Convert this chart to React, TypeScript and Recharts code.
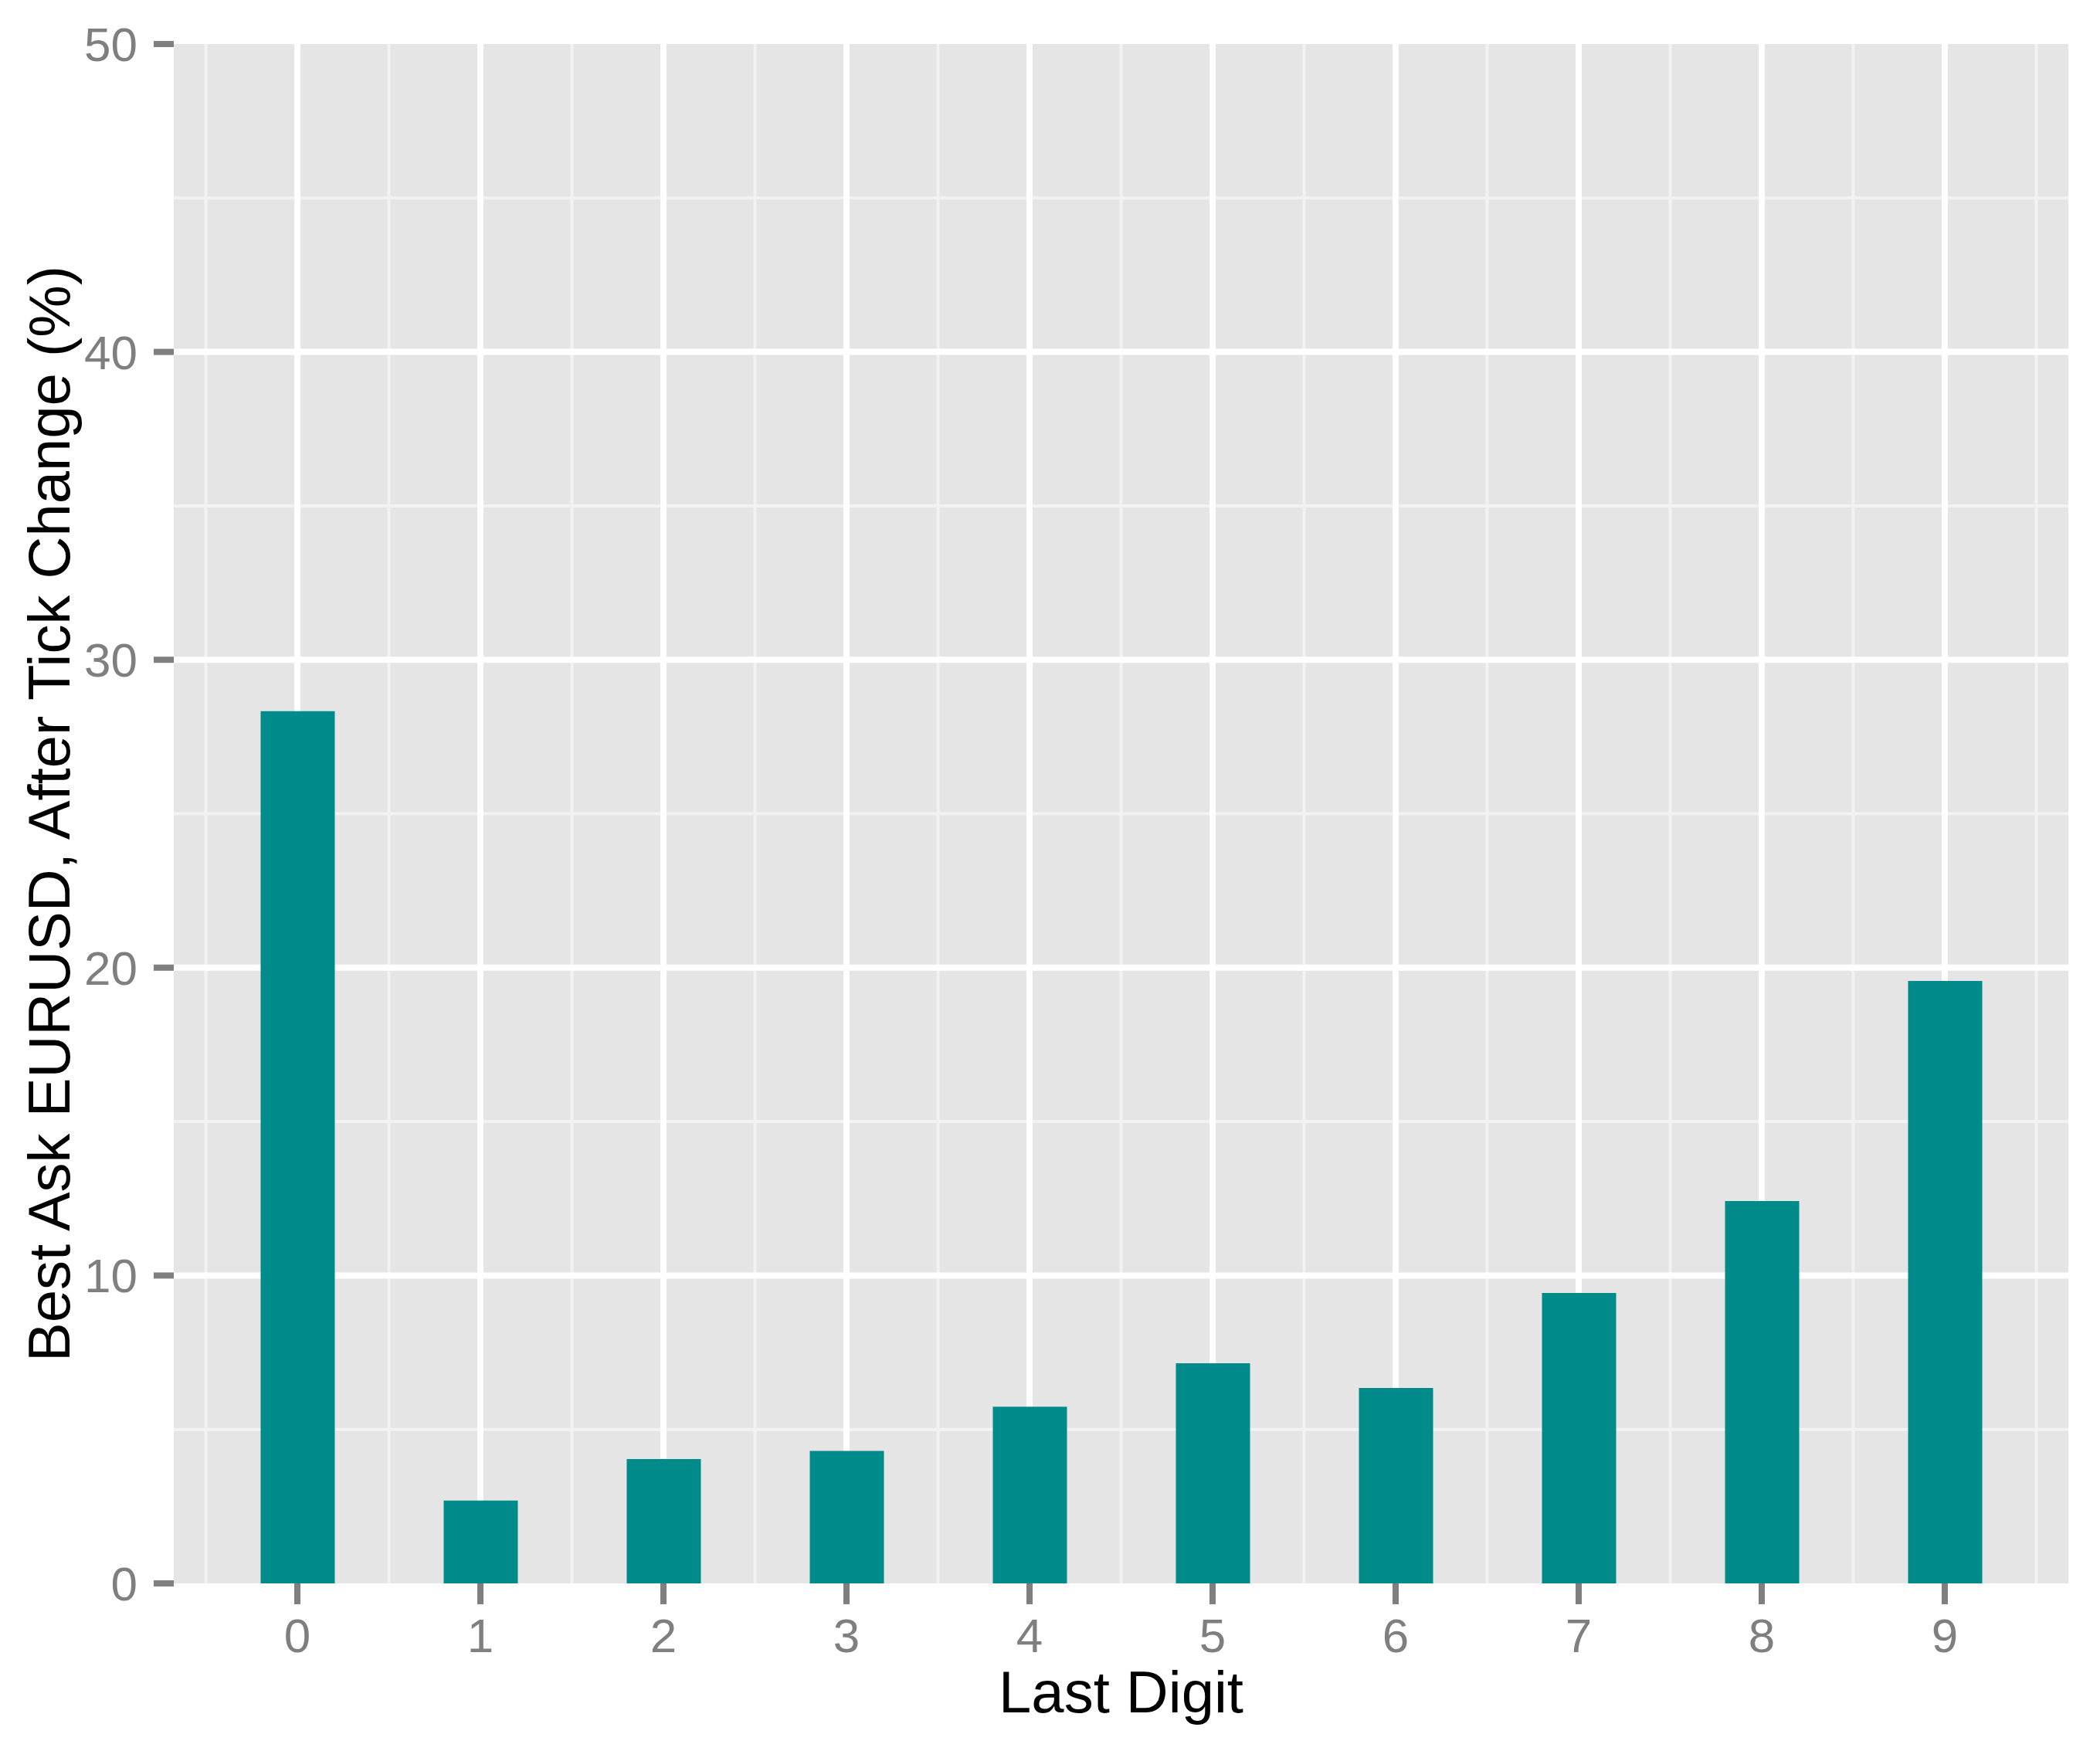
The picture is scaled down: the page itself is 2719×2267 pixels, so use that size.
import { BarChart, Bar, XAxis, YAxis, CartesianGrid } from 'recharts'

// share of ticks (%) ending in each last digit, best ask EURUSD
const digits = [0, 1, 2, 3, 4, 5, 6, 7, 8, 9]
const shares = [28.33, 2.69, 4.04, 4.3, 5.74, 7.15, 6.35, 9.43, 12.42, 19.57]

const yTicks = [0, 10, 20, 30, 40, 50]
const yMajorGrid = [10, 20, 30, 40]
const yMinorGrid = [5, 15, 25, 35, 45]
const xMinorGrid = [-0.5, 0.5, 1.5, 2.5, 3.5, 4.5, 5.5, 6.5, 7.5, 8.5, 9.5]

const data = digits.map((digit, i) => ({ digit, share: shares[i] }))

const BAR_COLOR = '#008B8B'
const AXIS_GREY = '#7F7F7F'
const FONT = '"Liberation Sans", Arial, sans-serif'

export default function App() {
  return (
    <div style={{ position: 'absolute', left: 0, top: 0 }}>
      <BarChart
        width={2719}
        height={2267}
        data={data}
        margin={{ top: 57, right: 41, left: 0, bottom: 0 }}
        style={{ fontFamily: FONT }}
      >
        <CartesianGrid
          fill="#E5E5E5"
          stroke="#F2F2F2"
          strokeWidth={4}
          verticalValues={xMinorGrid}
          horizontalValues={yMinorGrid}
        />
        <CartesianGrid
          stroke="#FFFFFF"
          strokeWidth={8}
          verticalValues={digits}
          horizontalValues={yMajorGrid}
        />
        <XAxis
          dataKey="digit"
          type="number"
          domain={[-0.675, 9.675]}
          allowDataOverflow
          ticks={digits}
          height={217}
          axisLine={false}
          tickSize={27}
          tickMargin={18}
          stroke={AXIS_GREY}
          tickLine={{ stroke: AXIS_GREY, strokeWidth: 8 }}
          tick={{ fill: AXIS_GREY, fontSize: 62 }}
          label={{
            value: 'Last Digit',
            position: 'insideBottom',
            offset: 50,
            fill: '#000000',
            fontSize: 76,
          }}
        />
        <YAxis
          type="number"
          domain={[0, 50]}
          allowDataOverflow
          ticks={yTicks}
          width={225}
          axisLine={false}
          tickSize={26}
          tickMargin={21}
          stroke={AXIS_GREY}
          tickLine={{ stroke: AXIS_GREY, strokeWidth: 8 }}
          tick={{ fill: AXIS_GREY, fontSize: 62 }}
          label={{
            value: 'Best Ask EURUSD, After Tick Change (%)',
            angle: -90,
            position: 'insideLeft',
            offset: 63,
            style: { textAnchor: 'middle' },
            fill: '#000000',
            fontSize: 76,
          }}
        />
        <Bar dataKey="share" fill={BAR_COLOR} barSize={96} isAnimationActive={false} />
      </BarChart>
    </div>
  )
}
